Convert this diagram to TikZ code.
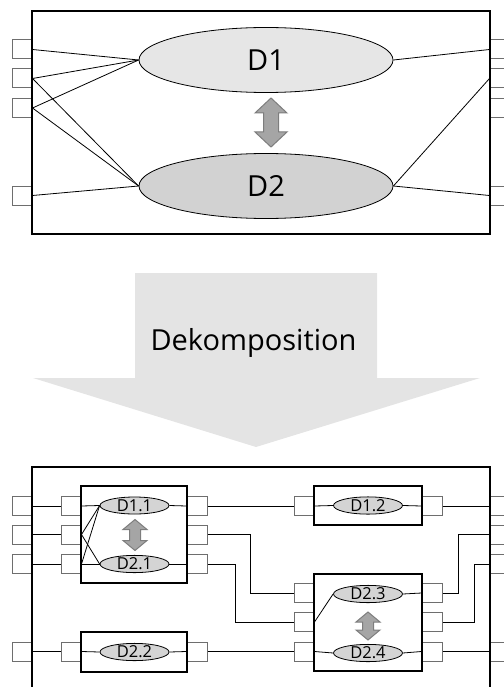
\documentclass[tikz,border=0pt]{standalone}
\usepackage{fontspec}
\setmainfont{Open Sans}
\usetikzlibrary{calc,shapes.geometric}
\definecolor{PortClr}{RGB}{110,110,110}
\definecolor{FirstClr}{RGB}{230,230,230}
\definecolor{SecondClr}{RGB}{210,210,210}
\definecolor{PartClr}{RGB}{212,212,212}
\definecolor{SwapFill}{RGB}{165,165,165}
\definecolor{SwapLine}{RGB}{125,125,125}
\definecolor{DecompClr}{RGB}{228,228,228}

\tikzset{
  port/.style={draw=PortClr,fill=white,line width=1pt,inner sep=0pt,minimum width=20pt,minimum height=19pt},
  dom/.style={draw,ellipse,line width=0.8pt,inner sep=0pt,minimum width=254pt,minimum height=65pt,font=\fontsize{29}{34}\selectfont},
  part/.style={draw,ellipse,fill=PartClr,line width=0.8pt,inner sep=0pt,minimum width=69pt,minimum height=17pt,font=\fontsize{16.5}{19}\selectfont},
  frame/.style={line width=2.2pt},
  subframe/.style={line width=1.8pt},
  link/.style={line width=0.8pt},
  pics/swap/.style args={#1/#2/#3/#4}{code={
    \draw[draw=SwapLine,fill=SwapFill,line width=1pt]
      (0,-#1) -- (#2,-#1+#4) -- (#3,-#1+#4) -- (#3,#1-#4) -- (#2,#1-#4) -- (0,#1)
      -- (-#2,#1-#4) -- (-#3,#1-#4) -- (-#3,-#1+#4) -- (-#2,-#1+#4) -- cycle;
  }}
}

\begin{document}
\begin{tikzpicture}[x=1pt,y=-1pt]
\useasboundingbox (0,0) rectangle (503,687);

\foreach \y/\n in {49.5/1,78.5/2,108/3,195.5/4}{
  \node[port] (lp\n) at (22,\y) {};
  \node[port] (rp\n) at (500,\y) {};
}
\draw[frame] (32,11) rectangle (490,234);

\node[dom,fill=FirstClr] (d1) at (266,60) {D1};
\node[dom,fill=SecondClr] (d2) at (266,186) {D2};
\pic at (271,122.5) {swap=24.5/16/7.5/15};

\draw[link] (lp1.east) -- (d1.west);
\draw[link] (lp2.east) -- (d1.west);
\draw[link] (lp2.east) -- (d2.west);
\draw[link] (lp3.east) -- (d1.west);
\draw[link] (lp3.east) -- (d2.west);
\draw[link] (lp4.east) -- (d2.west);
\draw[link] (d1.east) -- (rp1.west);
\draw[link] (d2.east) -- (rp2.west);
\draw[link] (d2.east) -- (rp4.west);

\fill[DecompClr] (135,273) -- (377,273) -- (377,378) -- (480,378) -- (256,447)
  -- (33,378) -- (135,378) -- cycle;
\node[anchor=base,font=\fontsize{29}{34}\selectfont] (dek) at (253.5,350) {Dekomposition};

\foreach \y/\n in {506/1,534.5/2,564/3,651.5/4}{
  \node[port] (olp\n) at (22,\y) {};
  \node[port] (orp\n) at (500,\y) {};
}
\foreach \y/\n in {506/1,534.5/2,564/3}{
  \node[port] (aL\n) at (71,\y) {};
  \node[port] (aR\n) at (197,\y) {};
}
\foreach \y/\n in {593/1,622/2,651.5/3}{
  \node[port] (dL\n) at (304,\y) {};
  \node[port] (dR\n) at (432,\y) {};
}
\node[port] (bL) at (71,651.5) {};
\node[port] (bR) at (197,651.5) {};
\node[port] (cL) at (304,506) {};
\node[port] (cR) at (432,506) {};

\draw[frame] (32,467) rectangle (490,720);
\draw[subframe] (81,486) rectangle (187,583);
\draw[subframe] (81,632) rectangle (187,672);
\draw[subframe] (314,486) rectangle (422,525);
\draw[subframe] (314,574) rectangle (422,671);

\node[part] (d11) at (134.5,505.5) {D1.1};
\node[part] (d21) at (134.5,564) {D2.1};
\node[part] (d22) at (134.5,652) {D2.2};
\node[part] (d12) at (368,505.5) {D1.2};
\node[part] (d23) at (368,594) {D2.3};
\node[part] (d24) at (368,653) {D2.4};
\pic at (135,535) {swap=15.5/12/5.5/10};
\pic at (368,626) {swap=14/12/5.5/10};

\draw[link] (olp1.east) -- (aL1.west);
\draw[link] (olp2.east) -- (aL2.west);
\draw[link] (olp3.east) -- (aL3.west);
\draw[link] (olp4.east) -- (bL.west);
\draw[link] (aL1.east) -- (d11.west);
\draw[link] (aL2.east) -- (d11.west);
\draw[link] (aL2.east) -- (d21.west);
\draw[link] (aL3.east) -- (d11.west);
\draw[link] (aL3.east) -- (d21.west);
\draw[link] (d11.east) -- (aR1.west);
\draw[link] (d21.east) -- (aR3.west);
\draw[link] (bL.east) -- (d22.west);
\draw[link] (d22.east) -- (bR.west);

\draw[link] (aR1.east) -- (cL.west);
\draw[link] (aR2.east) -- ++(43,0) |- (dL1.west);
\draw[link] (aR3.east) -- ++(28,0) |- (dL2.west);
\draw[link] (bR.east) -- (dL3.west);

\draw[link] (cL.east) -- (d12.west);
\draw[link] (d12.east) -- (cR.west);
\draw[link] (cR.east) -- (orp1.west);
\draw[link] (dL2.east) -- (d23.west);
\draw[link] (dL3.east) -- (d24.west);
\draw[link] (d23.east) -- (dR1.west);
\draw[link] (d24.east) -- (dR3.west);
\draw[link] (dR1.east) -- ++(16,0) |- (orp2.west);
\draw[link] (dR2.east) -- ++(32,0) |- (orp3.west);
\draw[link] (dR3.east) -- (orp4.west);

\end{tikzpicture}
\end{document}
